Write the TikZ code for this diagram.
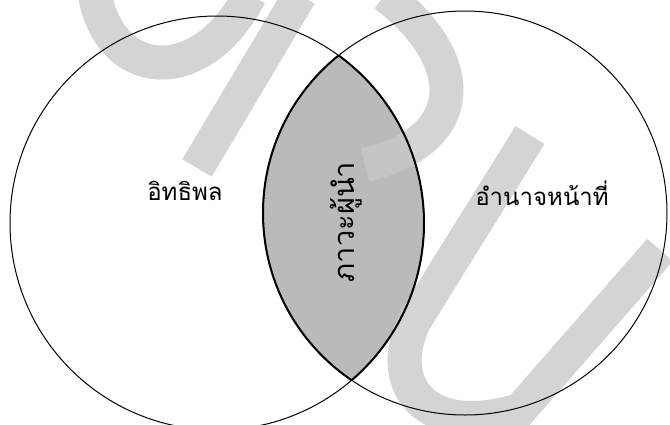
\documentclass[tikz,border=0pt]{standalone}
\usepackage{fontspec}
\newfontfamily\thaifont[Script=Thai]{Loma}
\tikzset{
  circ/.style={draw=black, line width=1pt},
  wm/.style={draw=wmgray, line width=34pt, line cap=butt},
  lbl/.style={font=\thaifont\fontsize{24}{26}\selectfont, inner sep=0pt},
  vlbl/.style={font=\thaifont\fontsize{29}{31}\selectfont, inner sep=0pt, rotate=90}
}
\definecolor{wmgray}{HTML}{D4D4D4}
\definecolor{lensgray}{HTML}{BABABA}
\begin{document}
\begin{tikzpicture}[x=1pt,y=-1pt]
\useasboundingbox (0,0) rectangle (670,424);
\fill[white] (0,0) rectangle (670,424);
% watermark strokes (SPU)
\draw[wm] (95,-5) .. controls (110,80) and (200,90) .. (250,-5);
\draw[wm] (300,-5) -- (197,168);
\draw[wm] (385,-5) .. controls (470,60) and (470,140) .. (365,165);
\draw[wm] (530,135) -- (415,320) .. controls (385,380) and (420,440) .. (520,410) -- (660,250);
% lens
\begin{scope}
  \clip (217,223) circle[radius=207];
  \fill[lensgray] (465,213) circle[radius=202];
  \begin{scope}
    \clip (465,213) circle[radius=202];
    \draw[wm, opacity=0.45] (300,-5) -- (197,168);
    \draw[wm, opacity=0.45] (385,-5) .. controls (470,60) and (470,140) .. (365,165);
    \draw[wm, opacity=0.45] (530,135) -- (415,320) .. controls (385,380) and (420,440) .. (520,410) -- (660,250);
  \end{scope}
  \draw[line width=2pt] (465,213) circle[radius=202];
\end{scope}
\begin{scope}
  \clip (465,213) circle[radius=202];
  \draw[line width=2pt] (217,223) circle[radius=207];
\end{scope}
% circles
\node[circle, circ, minimum size=414pt, inner sep=0pt] (L) at (217,223) {};
\node[circle, circ, minimum size=404pt, inner sep=0pt] (R) at (465,213) {};
% labels
\node[lbl] (infl) at (185,191) {อิทธิพล};
\node[lbl] (auth) at (542,193) {อำนาจหน้าที่};
\node[vlbl] (lead) at (346,222) {ภาวะผู้นำ};
\end{tikzpicture}
\end{document}
